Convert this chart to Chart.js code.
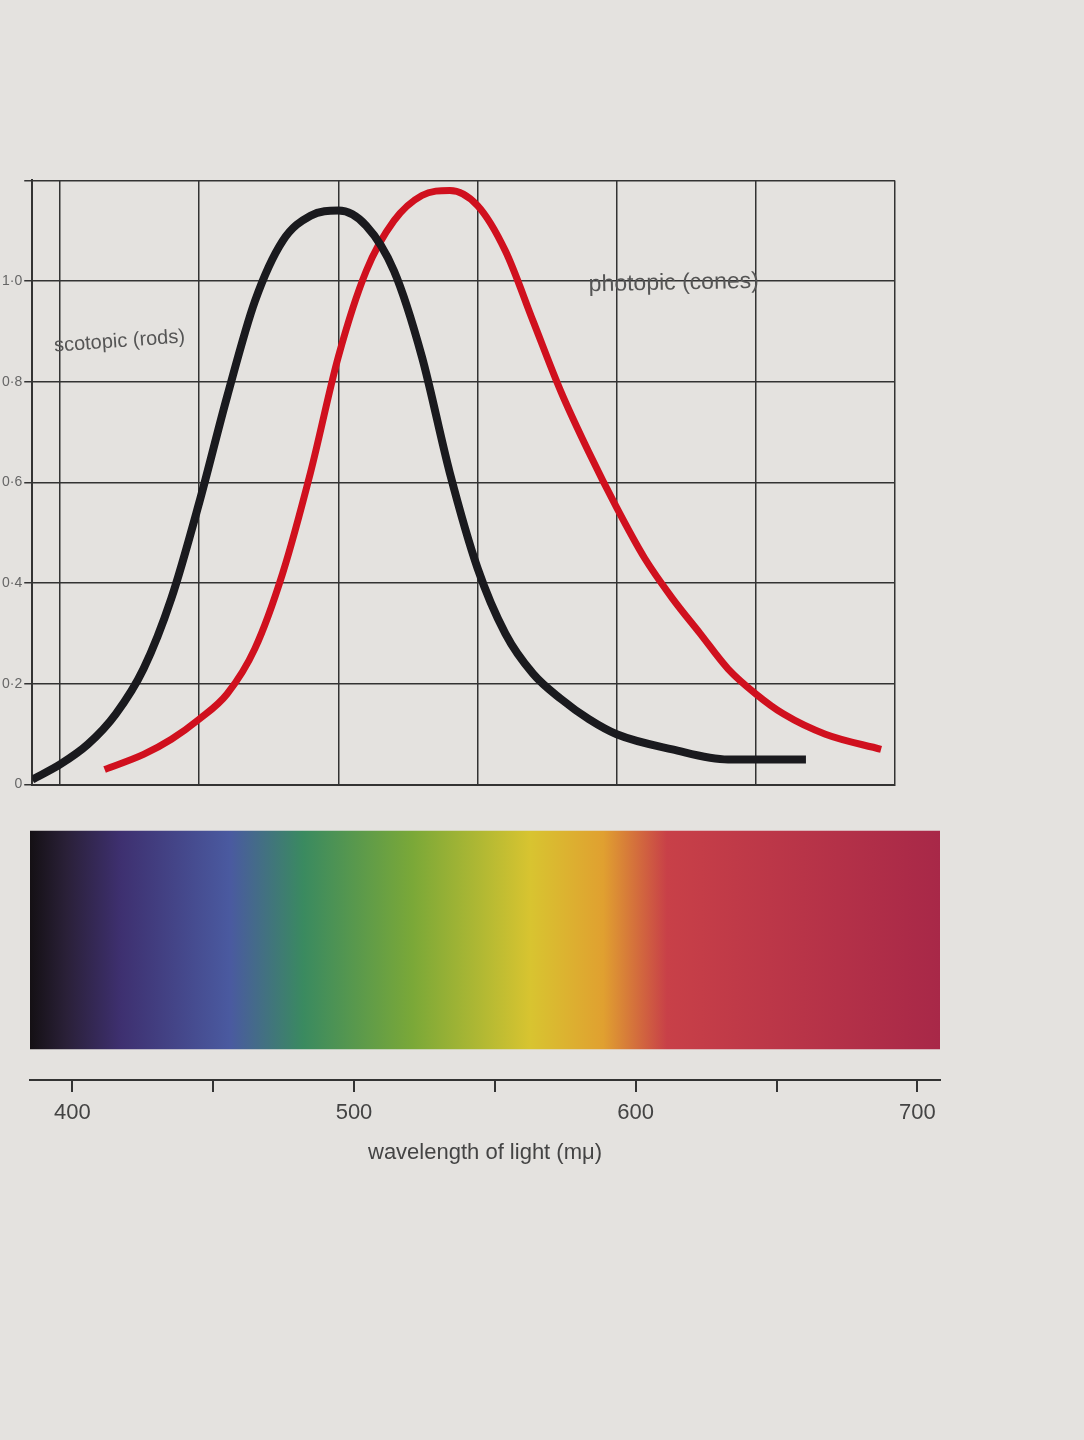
<!DOCTYPE html>
<html><head><meta charset="utf-8">
<script src="https://cdn.jsdelivr.net/npm/chart.js@4/dist/chart.umd.min.js"></script>
<style>
body{margin:0;background:#e4e2df;width:1084px;height:1440px;overflow:hidden;font-family:"Liberation Sans",Arial,sans-serif}
#c1{position:absolute;left:0;top:170px;width:905px;height:625px}
#c2{position:absolute;left:0;top:800px;width:960px;height:400px}
</style></head><body>
<div id="c1"><canvas id="a"></canvas></div>
<div id="c2"><canvas id="b"></canvas></div>
<script>
const rodNm=[390,400,410,420,430,440,450,460,470,480,490,500,510,520,530,540,550,560,570,580,590,600,620,640,668];
const rodVal=[0.01,0.04,0.08,0.14,0.23,0.37,0.56,0.77,0.96,1.08,1.13,1.14,1.11,1.02,0.85,0.62,0.43,0.3,0.22,0.17,0.13,0.1,0.07,0.05,0.05];
const coneNm=[416,430,440,450,460,470,480,490,500,510,520,530,540,550,560,570,580,590,600,610,620,630,640,650,660,675,695];
const coneVal=[0.03,0.06,0.09,0.13,0.18,0.27,0.42,0.62,0.85,1.02,1.12,1.17,1.18,1.15,1.06,0.92,0.78,0.66,0.55,0.45,0.37,0.3,0.23,0.18,0.14,0.1,0.07];
const yTicks=[0,0.2,0.4,0.6,0.8,1.0];
const yTickLabels=["0","0·2","0·4","0·6","0·8","1·0"];
const xTicks=[400,450,500,550,600,650,700];
const xTickLabels={400:'400',500:'500',600:'600',700:'700'};
const spectrumStops=[[0,'#141014'],[0.04,'#2a2038'],[0.1,'#3e3070'],[0.22,'#4a5aa0'],[0.3,'#3a8a60'],[0.42,'#7aa838'],[0.55,'#d8c430'],[0.63,'#e0a030'],[0.7,'#c84048'],[1,'#a82848']];

const labelPlugin={id:'lbl',afterDatasetsDraw(c){const {ctx,scales:{x,y}}=c;ctx.save();ctx.fillStyle='#555';ctx.font='20px "Liberation Sans"';
ctx.save();ctx.translate(x.getPixelForValue(398),y.getPixelForValue(0.86));ctx.rotate(-0.07);ctx.fillText('scotopic (rods)',0,0);ctx.restore();
ctx.save();ctx.translate(x.getPixelForValue(590),y.getPixelForValue(0.98));ctx.rotate(-0.02);ctx.font='23px "Liberation Sans"';ctx.fillText('photopic (cones)',0,0);ctx.restore();ctx.restore();}};

new Chart(document.getElementById('a'),{type:'scatter',
data:{datasets:[
{data:rodNm.map((v,i)=>({x:v,y:rodVal[i]})),showLine:true,borderColor:'#1a1a1e',borderWidth:8,pointRadius:0,cubicInterpolationMode:'monotone'},
{data:coneNm.map((v,i)=>({x:v,y:coneVal[i]})),showLine:true,borderColor:'#d0101e',borderWidth:7,pointRadius:0,cubicInterpolationMode:'monotone'}]},
options:{responsive:true,maintainAspectRatio:false,animation:false,plugins:{legend:{display:false},tooltip:{enabled:false}},
layout:{padding:{left:0,right:10,top:10,bottom:0}},
scales:{x:{type:'linear',min:390,max:700,grid:{color:'#333',lineWidth:1.5,drawTicks:false},border:{color:'#333',width:2},
afterBuildTicks(s){s.ticks=[400,450,500,550,600,650,700].map(v=>({value:v}));},ticks:{display:false}},
y:{min:0,max:1.2,grid:{color:'#333',lineWidth:1.5},border:{color:'#333',width:2},
afterBuildTicks(s){s.ticks=[...yTicks,1.2].map(v=>({value:v}));},
ticks:{color:'#666',font:{size:14},padding:2,callback:(v)=>{const i=yTicks.indexOf(v);return i<0?'':yTickLabels[i];}}}}},
plugins:[labelPlugin]});

new Chart(document.getElementById('b'),{type:'bar',
data:{labels:['s'],datasets:[{data:[[385,708]],borderSkipped:false,barPercentage:0.78,categoryPercentage:1,
backgroundColor(ctx){const a=ctx.chart.chartArea;if(!a)return '#888';const g=ctx.chart.ctx.createLinearGradient(a.left,0,a.right,0);spectrumStops.forEach(s=>g.addColorStop(s[0],s[1]));return g;}}]},
options:{indexAxis:'y',responsive:true,maintainAspectRatio:false,animation:false,plugins:{legend:{display:false},tooltip:{enabled:false}},
layout:{padding:{left:30,right:20,top:0,bottom:30}},
scales:{y:{display:false,min:-0.5,max:0.5},
x:{type:'linear',min:385,max:708,position:'bottom',grid:{display:true,drawOnChartArea:false,drawTicks:true,tickLength:12,color:'#333',lineWidth:2},border:{color:'#333',width:2},
afterBuildTicks(s){s.ticks=xTicks.map(v=>({value:v}));},
ticks:{color:'#444',font:{size:22},padding:8,callback:v=>xTickLabels[v]||''},
title:{display:true,text:'wavelength of light (mμ)',color:'#444',font:{size:22},padding:{top:0}},
afterFit(s){s.height=90;}}}}});
</script></body></html>
